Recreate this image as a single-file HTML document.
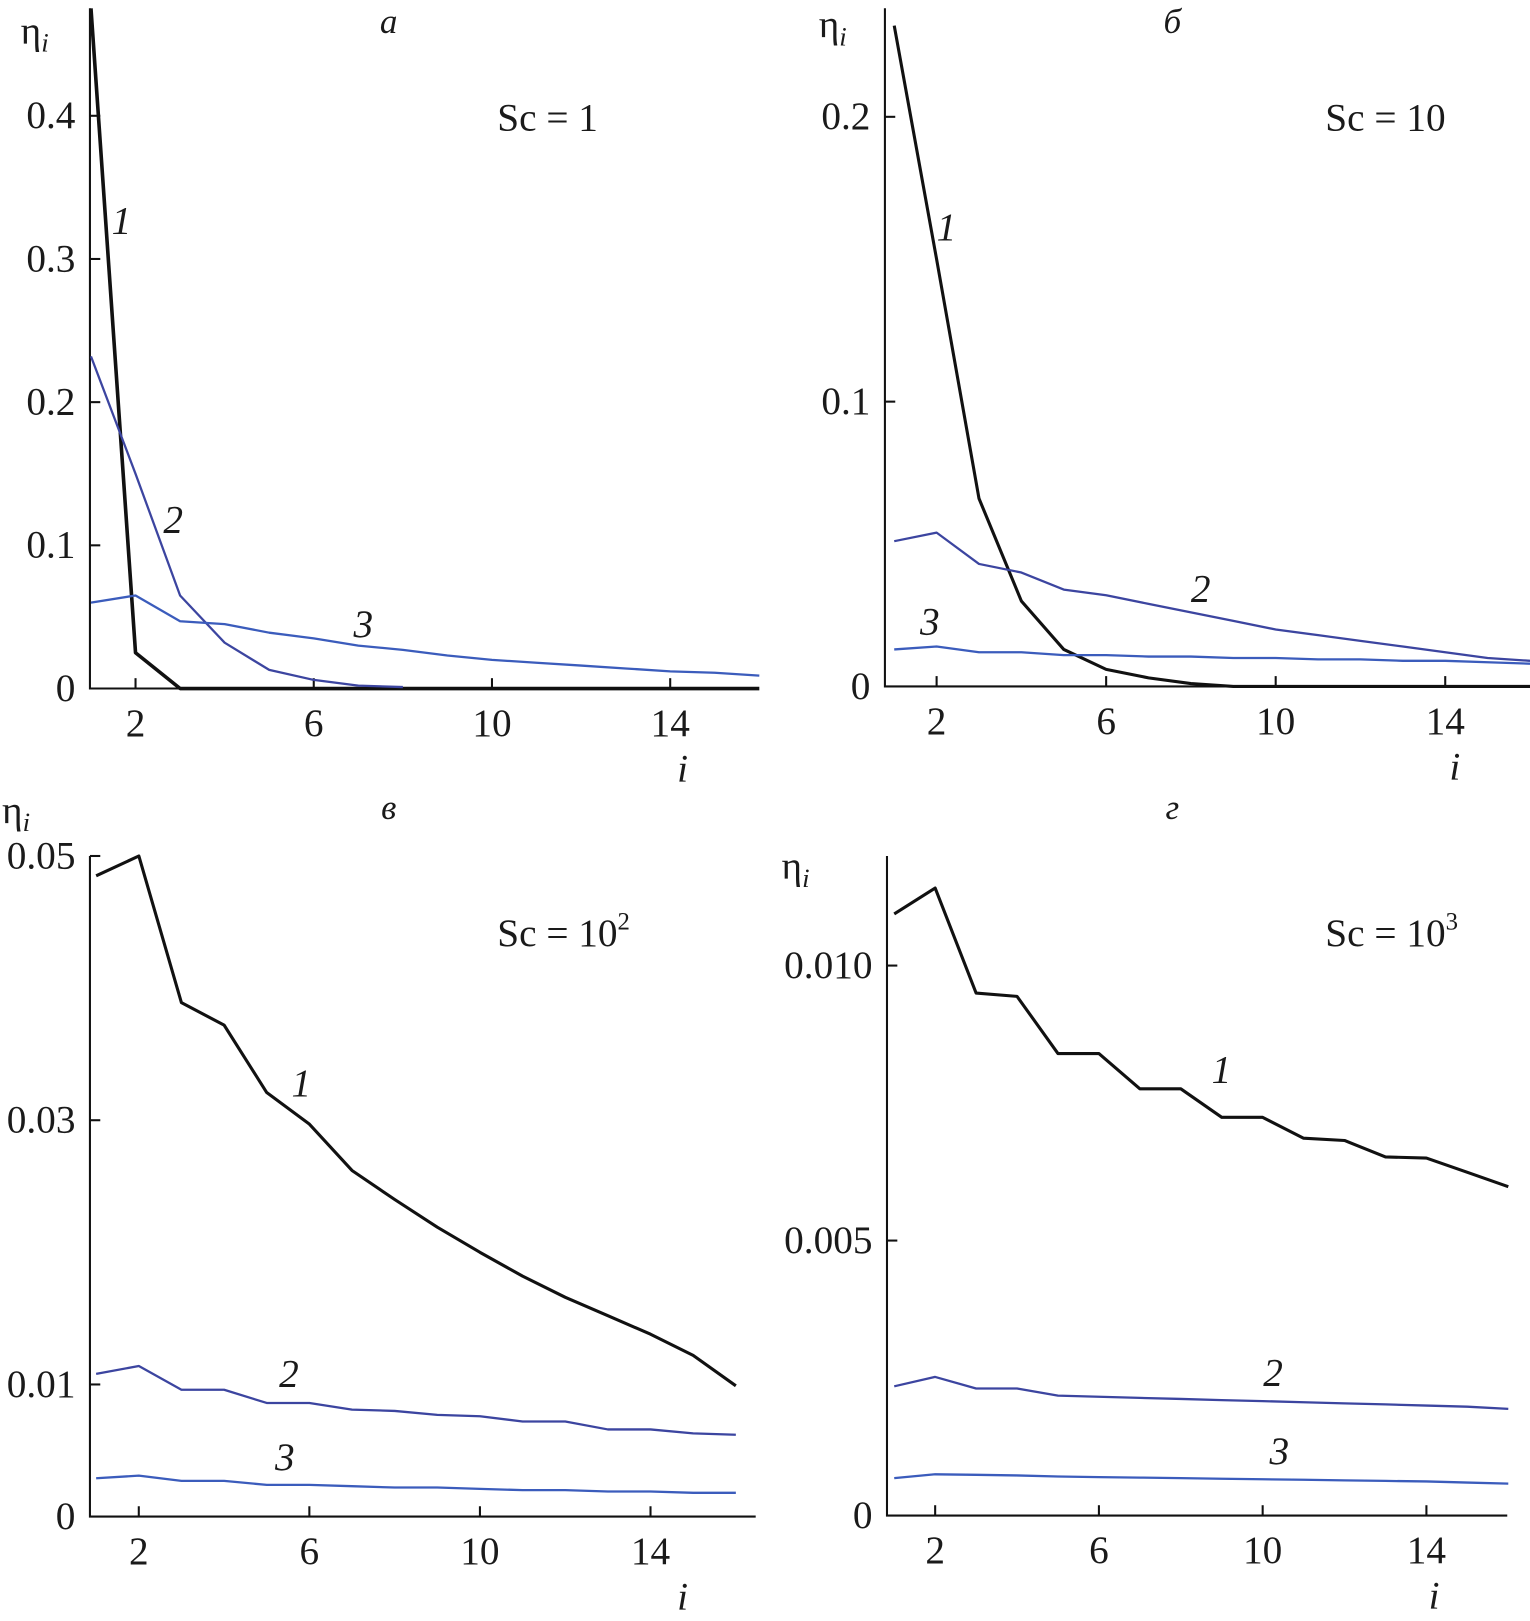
<!DOCTYPE html>
<html><head><meta charset="utf-8"><style>
html,body{margin:0;padding:0;background:#fff;}
svg{display:block;}
text{font-family:"Liberation Serif",serif;fill:#1a1a1a;}
</style></head><body>
<svg id="chart" width="1530" height="1621" viewBox="0 0 1480 1568" preserveAspectRatio="none" xmlns="http://www.w3.org/2000/svg"></svg>
<script>
const iValues = [1,2,3,4,5,6,7,8,9,10,11,12,13,14,15,16];
const xTickLabels = [2,6,10,14];
// panel a (Sc = 1)
const a1 = [0.475,0.025,0,0,0,0,0,0,0,0,0,0,0,0,0,0];
const a2 = [0.232,0.15,0.065,0.032,0.013,0.006,0.002,0.001];
const a3 = [0.06,0.065,0.047,0.045,0.039,0.035,0.03,0.027,0.023,0.02,0.018,0.016,0.014,0.012,0.011,0.009];
const aTicks = [0,0.1,0.2,0.3,0.4];
const aTickLabels = ["0","0.1","0.2","0.3","0.4"];
// panel b (Sc = 10)
const b1 = [0.232,0.15,0.066,0.03,0.013,0.006,0.003,0.001,0,0,0,0,0,0,0,0];
const b2 = [0.051,0.054,0.043,0.04,0.034,0.032,0.029,0.026,0.023,0.02,0.018,0.016,0.014,0.012,0.01,0.009];
const b3 = [0.013,0.014,0.012,0.012,0.011,0.011,0.0105,0.0105,0.01,0.01,0.0095,0.0095,0.009,0.009,0.0085,0.008];
const bTicks = [0,0.1,0.2];
const bTickLabels = ["0","0.1","0.2"];
// panel c (Sc = 10^2)
const c1 = [0.0485,0.05,0.0389,0.0372,0.0321,0.0297,0.0262,0.024,0.0219,0.02,0.0182,0.0166,0.0152,0.0138,0.0122,0.0099];
const c2 = [0.0108,0.0114,0.0096,0.0096,0.0086,0.0086,0.0081,0.008,0.0077,0.0076,0.0072,0.0072,0.0066,0.0066,0.0063,0.0062];
const c3 = [0.0029,0.0031,0.0027,0.0027,0.0024,0.0024,0.0023,0.0022,0.0022,0.0021,0.002,0.002,0.0019,0.0019,0.0018,0.0018];
const cTicks = [0,0.01,0.03,0.05];
const cTickLabels = ["0","0.01","0.03","0.05"];
// panel d (Sc = 10^3)
const d1 = [0.01094,0.01141,0.0095,0.00944,0.0084,0.0084,0.00776,0.00776,0.00724,0.00724,0.00686,0.00682,0.00652,0.0065,0.00624,0.00598];
const d2 = [0.00235,0.00252,0.00231,0.00231,0.00218,0.00216,0.00214,0.00212,0.0021,0.00208,0.00206,0.00204,0.00202,0.002,0.00198,0.00194];
const d3 = [0.00068,0.00075,0.00074,0.00073,0.00071,0.0007,0.00069,0.00068,0.00067,0.00066,0.00065,0.00064,0.00063,0.00062,0.0006,0.00058];
const dTicks = [0,0.005,0.010];
const dTickLabels = ["0","0.005","0.010"];

const NS="http://www.w3.org/2000/svg";
const svg=document.getElementById('chart');
function mk(tag,attrs,parent){const e=document.createElementNS(NS,tag);for(const k in attrs)e.setAttribute(k,attrs[k]);(parent||svg).appendChild(e);return e;}

function panel(cfg){
  const g=mk('g',{});
  
  
  const X=i=>cfg.x1+(i-1)*cfg.xu;
  const Y=v=>cfg.y0-v*cfg.yu;
  const ax=mk('path',{d:`M${cfg.ax},${cfg.ytop} L${cfg.ax},${cfg.y0} L${cfg.xend},${cfg.y0}`,stroke:'#111','stroke-width':2,fill:'none'},g);
  
  
  xTickLabels.forEach(t=>{
    const tk=mk('line',{x1:X(t),x2:X(t),y1:cfg.y0,y2:cfg.y0-10,stroke:'#111','stroke-width':2},g);
    
    
    const tl=mk('text',{x:X(t),y:cfg.y0+46,'font-size':38,'text-anchor':'middle'},g);
    tl.textContent=t;
    
    
  });
  cfg.ticks.forEach((t,k)=>{
    if(t>0){const tk=mk('line',{x1:cfg.ax,x2:cfg.ax+10,y1:Y(t),y2:Y(t),stroke:'#111','stroke-width':2},g);
    
    }
    const tl=mk('text',{x:cfg.ax-14,y:Y(t)+12,'font-size':38,'text-anchor':'end'},g);
    tl.textContent=cfg.tickLabels[k];
    
    
  });
  cfg.series.forEach((s,n)=>{
    const d=s.vals.map((v,k)=>(k?'L':'M')+X(iValues[k]).toFixed(1)+','+Y(v).toFixed(1)).join(' ');
    const p=mk('path',{d:d,stroke:s.color,'stroke-width':s.w,fill:'none','stroke-linejoin':'round'},g);
    
    
    const l=mk('text',{x:s.lx,y:s.ly,'font-size':38,'font-style':'italic'},g);
    l.textContent=String(n+1);
    
    
  });
  const yl=mk('text',{x:cfg.etaX,y:cfg.etaY,'font-size':38},g);
  yl.innerHTML='η<tspan font-size="26" font-style="italic" dy="8">i</tspan>';
  
  
  const xl=mk('text',{x:cfg.xend-76,y:cfg.y0+90,'font-size':38,'font-style':'italic'},g);
  xl.textContent='i';
  
  
  const pl=mk('text',{x:cfg.plx,y:cfg.ply,'font-size':34,'font-style':'italic','text-anchor':'middle'},g);
  pl.textContent=cfg.letter;
  
  
  const sc=mk('text',{x:cfg.scx,y:cfg.scy,'font-size':38},g);
  sc.innerHTML=cfg.sc;
  
  
}
const K='#111', B1='#3c45a0', B2='#3b5cbc';
panel({name:'panel-a',x1:88,xu:43.1,y0:666,yu:1385,ax:87,ytop:8,xend:731,ticks:aTicks,tickLabels:aTickLabels,
  series:[{vals:a1,color:K,w:3.5,lx:108,ly:226},{vals:a2,color:B1,w:2.2,lx:158,ly:515},{vals:a3,color:B2,w:2.2,lx:342,ly:616}],
  etaX:20,etaY:42,plx:376,ply:32,letter:'а',scx:481,scy:126,sc:'Sc = 1'});
panel({name:'panel-b',x1:865,xu:41,y0:664,yu:2755,ax:856,ytop:8,xend:1478,ticks:bTicks,tickLabels:bTickLabels,
  series:[{vals:b1,color:K,w:3,lx:906,ly:232},{vals:b2,color:B1,w:2.2,lx:1152,ly:582},{vals:b3,color:B2,w:2.2,lx:890,ly:614}],
  etaX:792,etaY:36,plx:1134,ply:32,letter:'б',scx:1282,scy:126,sc:'Sc = 10'});
panel({name:'panel-c',x1:93,xu:41.25,y0:1467,yu:12780,ax:87,ytop:828,xend:731,ticks:cTicks,tickLabels:cTickLabels,
  series:[{vals:c1,color:K,w:3,lx:282,ly:1060},{vals:c2,color:B1,w:2.2,lx:270,ly:1341},{vals:c3,color:B2,w:2.2,lx:266,ly:1422}],
  etaX:2,etaY:796,plx:376,ply:792,letter:'в',scx:481,scy:915,sc:'Sc = 10<tspan font-size="24" dy="-16">2</tspan>'});
panel({name:'panel-d',x1:865,xu:39.6,y0:1466,yu:53200,ax:858,ytop:828,xend:1458,ticks:dTicks,tickLabels:dTickLabels,
  series:[{vals:d1,color:K,w:3,lx:1172,ly:1047},{vals:d2,color:B1,w:2.2,lx:1222,ly:1340},{vals:d3,color:B2,w:2.2,lx:1228,ly:1416}],
  etaX:756,etaY:850,plx:1134,ply:792,letter:'г',scx:1282,scy:915,sc:'Sc = 10<tspan font-size="24" dy="-16">3</tspan>'});
</script>
</body></html>
